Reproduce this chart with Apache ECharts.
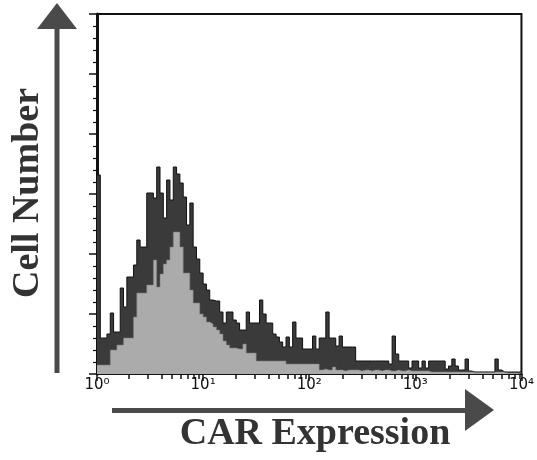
<!DOCTYPE html>
<html>
<head>
<meta charset="utf-8">
<script src="https://cdn.jsdelivr.net/npm/echarts@6/dist/echarts.min.js"></script>
<style>html,body{margin:0;padding:0;background:#fff}#c{width:537px;height:460px}</style>
</head>
<body>
<div id="c"></div>
<script>
const decades = 4;
const binCount = 128;
const binEdges = Array.from({length: binCount + 1}, (_, i) => Math.pow(10, i * decades / binCount));
const carCounts = [
199,36,36,40,61,42,42,86,67,97,97,109,134,127,127,181,
181,176,207,181,156,194,174,207,200,191,177,149,171,127,115,101,
90,84,74,73,73,62,51,62,62,54,51,44,44,62,51,51,
51,74,60,51,51,40,37,32,27,37,27,52,36,36,25,25,
25,38,25,36,36,62,36,36,28,38,27,27,27,27,13,13,
13,13,13,13,13,13,13,13,10,38,20,13,13,13,6,13,
13,6,13,6,13,13,13,13,13,5,8,15,8,4,4,15,
3,2,2,2,2,2,2,2,15,4,2,2,2,2,2,2
];
const controlCounts = [
9,9,9,9,24,24,29,29,36,36,36,57,81,81,81,89,
89,114,87,100,110,114,127,142,142,127,101,101,84,71,71,60,
57,52,50,47,44,40,33,29,26,26,25,25,30,21,21,21,
13,13,13,13,13,13,13,13,13,10,10,10,10,10,10,10,
10,10,10,4,5,4,4,7,4,4,3,4,4,4,4,3,
4,4,3,4,4,3,4,4,3,3,4,3,3,4,3,3,
3,3,3,3,2,2,2,2,2,2,2,2,2,2,2,2,
2,2,2,2,2,2,2,2,2,2,2,1,1,1,1,1
];
const xTickLabels = ['10⁰', '10¹', '10²', '10³', '10⁴'];
const minorTickValues = [];
for (let d = 0; d < 4; d++) { for (let k = 2; k <= 9; k++) minorTickValues.push(d + Math.log10(k)); }
const toSeries = arr => binEdges.map((x, i) => [x, arr[Math.min(i, arr.length - 1)]]);

const chart = echarts.init(document.getElementById('c'), null, {renderer: 'canvas'});
const serif = '"Liberation Serif", "DejaVu Serif", serif';
const gridBox = {left: 97, right: 12, top: 14, bottom: 86};
chart.setOption({
  animation: false,
  grid: [
    Object.assign({show: true, borderColor: '#111', borderWidth: 2, backgroundColor: 'transparent'}, gridBox),
    Object.assign({show: false}, gridBox)
  ],
  xAxis: [{
    type: 'log', logBase: 10, min: 1, max: 10000, gridIndex: 0,
    axisLine: {show: true, onZero: false, lineStyle: {color: '#111', width: 2}},
    axisTick: {show: true, inside: false, length: 7, lineStyle: {color: '#111', width: 1.5}},
    splitLine: {show: false},
    axisLabel: {
      margin: 4, fontSize: 15, color: '#111', fontFamily: 'DejaVu Sans',
      formatter: v => { const e = Math.round(Math.log10(v)); return xTickLabels[e] || ''; }
    }
  }, {
    type: 'value', min: 0, max: 4, gridIndex: 1, position: 'bottom',
    axisLine: {show: false},
    axisTick: {show: true, inside: false, length: 5, customValues: minorTickValues, lineStyle: {color: '#111', width: 1.5}},
    axisLabel: {show: false},
    splitLine: {show: false}
  }],
  yAxis: [{
    type: 'value', min: 0, max: 360, interval: 60, gridIndex: 0,
    axisLine: {show: true, lineStyle: {color: '#111', width: 3}},
    axisTick: {show: true, length: 8, lineStyle: {color: '#111', width: 1.5}},
    minorTick: {show: true, splitNumber: 5, length: 4, lineStyle: {color: '#111', width: 1.2}},
    axisLabel: {show: false},
    splitLine: {show: false}
  }, {
    type: 'value', gridIndex: 1, show: false
  }],
  series: [{
    name: 'CAR', type: 'line', step: 'end', xAxisIndex: 0, yAxisIndex: 0, symbol: 'none',
    data: toSeries(carCounts),
    lineStyle: {color: '#111', width: 1},
    areaStyle: {color: '#3a3a3a', opacity: 1}
  }, {
    name: 'Control', type: 'line', step: 'end', xAxisIndex: 0, yAxisIndex: 0, symbol: 'none',
    data: toSeries(controlCounts),
    lineStyle: {color: '#7a7a7a', width: 0.6},
    areaStyle: {color: '#ababab', opacity: 1}
  }],
  graphic: [
    {type: 'rect', shape: {x: 54.5, y: 27, width: 5, height: 346}, style: {fill: '#4a4a4a'}},
    {type: 'polygon', shape: {points: [[37, 29], [77, 29], [57, 3]]}, style: {fill: '#4a4a4a'}},
    {type: 'rect', shape: {x: 112, y: 408, width: 355, height: 5}, style: {fill: '#4a4a4a'}},
    {type: 'polygon', shape: {points: [[465, 389], [465, 431], [494, 410]]}, style: {fill: '#4a4a4a'}},
    {type: 'text', x: 28, y: 193, rotation: Math.PI / 2,
      style: {text: 'Cell Number', font: 'bold 38px ' + serif, fill: '#333', align: 'center', verticalAlign: 'middle'}},
    {type: 'text', x: 315, y: 434,
      style: {text: 'CAR Expression', font: 'bold 38px ' + serif, fill: '#333', align: 'center', verticalAlign: 'middle'}}
  ]
});
</script>
</body>
</html>
